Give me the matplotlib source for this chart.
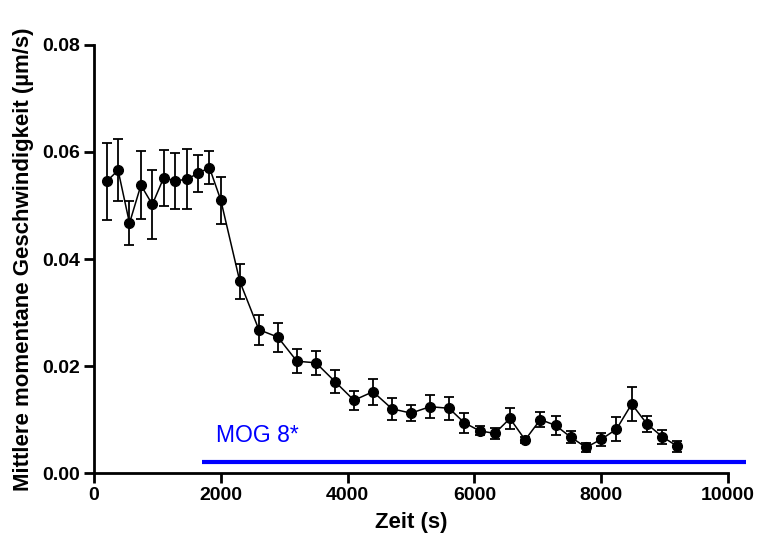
import numpy as np
import matplotlib.pyplot as plt

# Zeitpunkte (s)
zeit = [200, 380, 560, 740, 920, 1100, 1280, 1460, 1640, 1820, 2000,
        2300, 2600, 2900, 3200, 3500, 3800, 4100, 4400, 4700, 5000, 5300, 5600,
        5840, 6080, 6320, 6560, 6800, 7040, 7280, 7520, 7760, 8000, 8240,
        8480, 8720, 8960, 9200]

# Mittlere momentane Geschwindigkeit (um/s)
mittel = [0.0545, 0.0566, 0.0467, 0.0538, 0.0502, 0.0552, 0.0546, 0.0549,
          0.0560, 0.0571, 0.0510, 0.0358, 0.0268, 0.0254, 0.0209, 0.0206,
          0.0171, 0.0136, 0.0152, 0.0120, 0.0112, 0.0124, 0.0121, 0.0094,
          0.0079, 0.0074, 0.0102, 0.0062, 0.0100, 0.0089, 0.0067, 0.0048,
          0.0063, 0.0082, 0.0129, 0.0092, 0.0068, 0.0050]

# Fehler (SEM)
fehler = [0.0072, 0.0058, 0.0041, 0.0063, 0.0064, 0.0052, 0.0053, 0.0056,
          0.0035, 0.0030, 0.0044, 0.0033, 0.0028, 0.0027, 0.0022, 0.0023,
          0.0022, 0.0018, 0.0024, 0.0020, 0.0015, 0.0022, 0.0021, 0.0019,
          0.0008, 0.0010, 0.0020, 0.0006, 0.0014, 0.0018, 0.0011, 0.0008,
          0.0012, 0.0022, 0.0032, 0.0015, 0.0013, 0.0010]

# MOG-Balken
mog_start = 1700
mog_ende = 10280
mog_y = 0.002

plt.rcParams['font.family'] = ['Liberation Sans', 'DejaVu Sans']

fig = plt.figure(figsize=(7.58, 5.40), dpi=100)
ax = fig.add_axes([0.124, 0.124, 0.8365, 0.7927])

ax.errorbar(zeit, mittel, yerr=fehler, fmt='-o', color='black',
            markersize=7, linewidth=1.1, elinewidth=1.3,
            capsize=3.5, capthick=1.3, clip_on=False, zorder=3)

# blauer Balken + Beschriftung
ax.plot([mog_start, mog_ende], [mog_y, mog_y], color='#0000ff',
        linewidth=3, solid_capstyle='butt', clip_on=False)
ax.text(1920, 0.0058, 'MOG 8*', color='#0000ff', fontsize=16.5)

ax.set_xlim(0, 10000)
ax.set_ylim(0, 0.08)
ax.set_xticks(np.arange(0, 10001, 2000))
ax.set_yticks(np.arange(0, 0.081, 0.02))
ax.set_yticklabels(['0.00', '0.02', '0.04', '0.06', '0.08'])

for side in ['top', 'right']:
    ax.spines[side].set_visible(False)
for side in ['left', 'bottom']:
    ax.spines[side].set_linewidth(2)

ax.tick_params(direction='out', length=7, width=2, labelsize=14, pad=3)
for lab in ax.get_xticklabels() + ax.get_yticklabels():
    lab.set_fontweight('bold')

ax.set_xlabel('Zeit (s)', fontsize=16, fontweight='bold', labelpad=6)
ax.set_ylabel('Mittlere momentane Geschwindigkeit (µm/s)', fontsize=16,
              fontweight='bold', labelpad=6)

plt.savefig('out.png', dpi=100)
